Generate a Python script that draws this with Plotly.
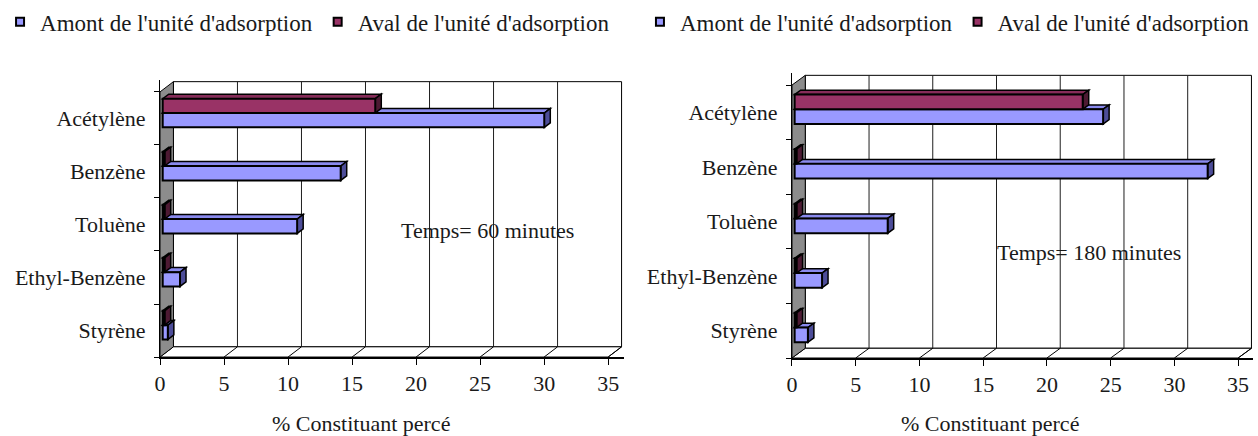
import plotly.graph_objects as go

W, H = 1258, 436

# Data (categories listed bottom to top)
categories = ["Styrène", "Ethyl-Benzène", "Toluène", "Benzène", "Acétylène"]
amont_60 = [0.4, 1.35, 10.5, 13.9, 29.8]
aval_60 = [0.15, 0.15, 0.15, 0.15, 16.6]
amont_180 = [1.04, 2.15, 7.3, 32.4, 24.2]
aval_180 = [0.15, 0.15, 0.15, 0.15, 22.6]
x_ticks = [0, 5, 10, 15, 20, 25, 30, 35]
series_names = ["Amont de l'unité d'adsorption", "Aval de l'unité d'adsorption"]
panel_notes = ["Temps= 60 minutes", "Temps= 180 minutes"]
axis_title = "% Constituant percé"

FONT = "Liberation Serif"
FS = 22
FS_LEG = 23
TXT = "#1a1a1a"

BLUE, BLUE_TOP, BLUE_SIDE = "#9999FF", "#8a8aee", "#4d4d99"
RED, RED_TOP, RED_SIDE = "#993366", "#862c59", "#4d1a33"
WALL = "#8c8c8c"
GRID = "#1f1f1f"

# Pixel frame of each 3D box: front plane x(0)/x(35), y(top)/y(bottom), depth offsets
panels = [
    dict(fl=153, fr=604, ft=83, fb=355, dx=13.5, dy=10.5, lift=5.5,
         note=(483, 225), title=(355, 423), legend_x=-8,
         amont=amont_60, aval=aval_60, text=panel_notes[0]),
    dict(fl=789, fr=1238, ft=76, fb=356, dx=13.4, dy=10.0, lift=3.2,
         note=(1088, 248), title=(988, 423), legend_x=636,
         amont=amont_180, aval=aval_180, text=panel_notes[1]),
]

BAR_W = 0.27      # bar thickness in category units
FRONT_GAP = 0.2   # depth fraction before bar front face
BAR_DEPTH = 0.45  # depth fraction taken by the bar

fig = go.Figure()
shapes = []
annotations = []
layout = {}


def path(pts):
    return "M " + " L ".join(f"{x:.4f},{y:.4f}" for x, y in pts) + " Z"


for k, p in enumerate(panels):
    sfx = "" if k == 0 else str(k + 1)
    xa, ya = "x" + sfx, "y" + sfx
    sx = (p["fr"] - p["fl"]) / 35.0
    sy = (p["fb"] - p["ft"]) / 5.0
    right = p["fr"] + p["dx"] + 2
    top = p["ft"] - p["dy"] - 2
    ddx, ddy = p["dx"] / sx, p["dy"] / sy
    xmax = (right - p["fl"]) / sx
    ymax = -0.5 + (p["fb"] - top) / sy

    layout["xaxis" + sfx] = dict(
        domain=[p["fl"] / W, right / W], range=[0, xmax], anchor=ya,
        tickvals=x_ticks, ticktext=[str(t) for t in x_ticks],
        ticks="outside", ticklen=6, tickcolor="black", tickwidth=1,
        showline=True, linecolor="black", linewidth=1.5,
        showgrid=False, zeroline=False, fixedrange=True,
        tickfont=dict(family=FONT, size=FS, color=TXT),
    )
    layout["yaxis" + sfx] = dict(
        domain=[1 - p["fb"] / H, 1 - top / H], range=[-0.5, ymax], anchor=xa,
        tickvals=list(range(len(categories))), ticktext=categories,
        ticks="", showline=True, linecolor="black", linewidth=1,
        minor=dict(tickvals=[i - 0.5 for i in range(len(categories) + 1)],
                   ticks="outside", ticklen=5, tickcolor="black", showgrid=False),
        showgrid=False, zeroline=False, fixedrange=True, ticklabelstandoff=9,
        tickfont=dict(family=FONT, size=FS, color=TXT),
    )

    def add(pts, fill, lw=1, lc="black"):
        shapes.append(dict(type="path", xref=xa, yref=ya, layer="below",
                           path=path(pts), fillcolor=fill,
                           line=dict(color=lc, width=lw)))

    y0, y1 = -0.5, len(categories) - 0.5
    # back wall, floor and side wall
    add([(ddx, y0 + ddy), (35 + ddx, y0 + ddy), (35 + ddx, y1 + ddy), (ddx, y1 + ddy)], "white")
    add([(0, y0), (35, y0), (35 + ddx, y0 + ddy), (ddx, y0 + ddy)], "white")
    add([(0, y0), (ddx, y0 + ddy), (ddx, y1 + ddy), (0, y1)], WALL)
    for t in x_ticks[1:-1]:
        shapes.append(dict(type="line", xref=xa, yref=ya, layer="below",
                           x0=t + ddx, x1=t + ddx, y0=y0 + ddy, y1=y1 + ddy,
                           line=dict(color=GRID, width=1)))
    for t in x_ticks[1:]:
        shapes.append(dict(type="line", xref=xa, yref=ya, layer="below",
                           x0=t, x1=t + ddx, y0=y0, y1=y0 + ddy,
                           line=dict(color="black", width=1)))

    base = FRONT_GAP * ddx
    lift = FRONT_GAP * ddy + (p["lift"] - FRONT_GAP * p["dy"]) / sy
    bdx, bdy = BAR_DEPTH * ddx, BAR_DEPTH * ddy
    centers = {"amont": [], "aval": []}
    for i in range(len(categories)):
        c = i + lift
        for key, yc, top_c, side_c in (("amont", c - BAR_W / 2, BLUE_TOP, BLUE_SIDE),
                                       ("aval", c + BAR_W / 2, RED_TOP, RED_SIDE)):
            v = p[key][i]
            xl, xr = base, base + v
            yb, yt = yc - BAR_W / 2, yc + BAR_W / 2
            add([(xl, yt), (xr, yt), (xr + bdx, yt + bdy), (xl + bdx, yt + bdy)], top_c, 1.5)
            add([(xr, yb), (xr, yt), (xr + bdx, yt + bdy), (xr + bdx, yb + bdy)], side_c, 1.5)
            centers[key].append(yc)

    for key, color, name in (("amont", BLUE, series_names[0]), ("aval", RED, series_names[1])):
        fig.add_trace(go.Bar(
            x=p[key], y=centers[key], base=base, width=BAR_W, orientation="h",
            marker=dict(color=color, line=dict(color="black", width=2)),
            name=name, showlegend=False, xaxis=xa, yaxis=ya,
            hovertemplate="%{x}<extra>" + name + "</extra>",
        ))
        fig.add_trace(go.Scatter(
            x=[None], y=[None], mode="markers", name=name, xaxis=xa, yaxis=ya,
            marker=dict(symbol="square", size=8, color=color,
                        line=dict(color="black", width=2)),
            legend="legend" + sfx,
        ))

    layout["legend" + sfx] = dict(
        orientation="h", x=p["legend_x"] / W, y=1 + 11 / H, xanchor="left", yanchor="top",
        font=dict(family=FONT, size=FS_LEG, color=TXT), bgcolor="rgba(0,0,0,0)",
        itemclick=False, itemdoubleclick=False,
    )
    annotations.append(dict(text=p["text"], xref="paper", yref="paper",
                            x=p["note"][0] / W, y=1 - p["note"][1] / H,
                            xanchor="center", yanchor="middle",
                            showarrow=False, font=dict(family=FONT, size=FS, color=TXT)))
    annotations.append(dict(text=axis_title, xref="paper", yref="paper",
                            x=p["title"][0] / W, y=1 - p["title"][1] / H,
                            xanchor="center", yanchor="middle",
                            showarrow=False, font=dict(family=FONT, size=FS, color=TXT)))

fig.update_layout(
    width=W, height=H, margin=dict(l=0, r=0, t=0, b=0),
    paper_bgcolor="white", plot_bgcolor="rgba(0,0,0,0)",
    barmode="overlay", shapes=shapes, annotations=annotations,
    font=dict(family=FONT, size=FS, color=TXT),
    **layout,
)

fig.write_html("out.html")
